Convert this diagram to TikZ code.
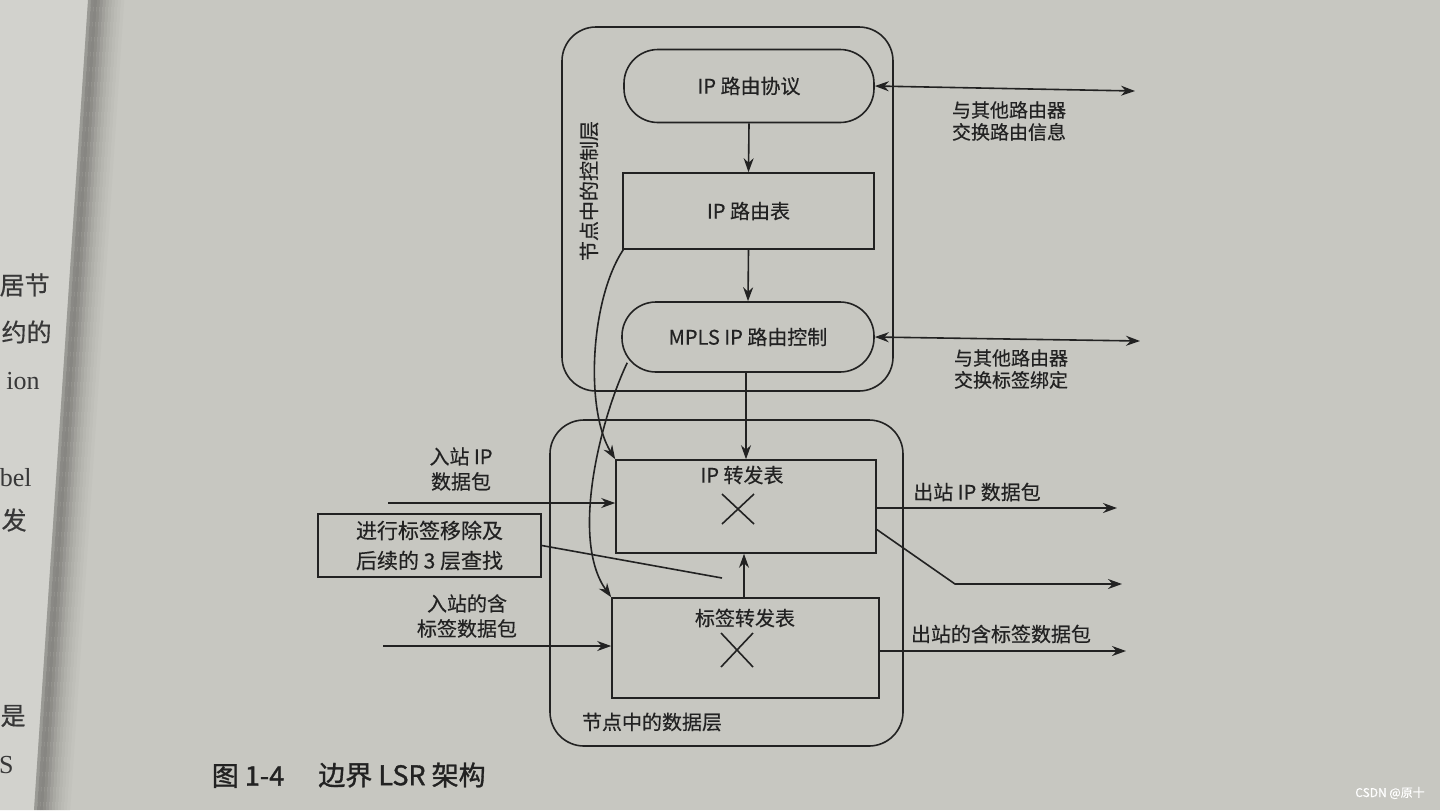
\documentclass[tikz,border=0pt]{standalone}
\usepackage{fontspec}
\setmainfont{Noto Sans CJK SC}[FakeBold=0.4]
\newfontfamily\capfont{Noto Sans CJK SC}[FakeBold=1.2]
\newfontfamily\latserif{Liberation Serif}
\usetikzlibrary{arrows.meta,calc}
\definecolor{page}{RGB}{199,199,193}
\definecolor{lpage}{RGB}{210,210,205}
\definecolor{gutter}{RGB}{135,134,130}
\definecolor{ink}{RGB}{34,34,34}
\tikzset{
  box/.style={draw=ink, rectangle, line width=0.8pt, font=\fontsize{10}{12}\selectfont, text=ink, inner sep=0pt},
  pill/.style={box, rounded corners=17pt},
  layer/.style={draw=ink, rectangle, rounded corners=17pt, line width=0.8pt, inner sep=0pt},
  lbl/.style={text=ink, align=center, inner sep=0pt, font=\fontsize{10}{12.5}\selectfont},
  arr/.style={draw=ink, line width=0.8pt, -{Stealth[length=7pt,width=5pt]}},
  darr/.style={draw=ink, line width=0.8pt, {Stealth[length=7pt,width=5pt]}-{Stealth[length=7pt,width=5pt]}},
  ln/.style={draw=ink, line width=0.8pt},
  margintxt/.style={text=ink!90, anchor=east, inner sep=0pt, font=\fontsize{12.5}{13}\selectfont}
}
\begin{document}
\begin{tikzpicture}[x=0.5pt,y=-0.5pt]
\useasboundingbox (0,0) rectangle (1440,810);
\clip (0,0) rectangle (1440,810);
% background page
\fill[page] (0,0) rectangle (1440,810);
\fill[lpage] (0,0)--(88,0)--(34,810)--(0,810)--cycle;
\foreach \i/\p in {0/70,1/95,2/100,3/90,4/75,5/60,6/47,7/36,8/27,9/19,10/12,11/6}{
  \fill[gutter!\p!page] ({88+3*\i},0)--({91.2+3*\i},0)--({37.2+3*\i},810)--({34+3*\i},810)--cycle;
}
% margin text of the facing page
\node[margintxt] (m1) at (50,285) {居节};
\node[margintxt] (m2) at (52,332) {约的};
\node[margintxt, font=\latserif\fontsize{13}{13}\selectfont] (m3) at (40,381) {ion};
\node[margintxt, font=\latserif\fontsize{13}{13}\selectfont] (m4) at (32,478) {bel};
\node[margintxt] (m5) at (27,520) {发};
\node[margintxt] (m6) at (26,716) {是};
\node[margintxt, font=\latserif\fontsize{13}{13}\selectfont] (m7) at (14,765) {S};

% layers
\node[layer, minimum width=165.5pt, minimum height=182pt] (ctl) at (727.5,209) {};
\node[layer, minimum width=176.5pt, minimum height=163pt] (dat) at (726.5,583) {};
\node[lbl, rotate=90] (ctlt) at (589,191) {节点中的控制层};
\node[lbl] (datt) at (652,722) {节点中的数据层};

% control boxes
\node[pill, minimum width=125pt, minimum height=36.5pt] (proto) at (749,86) {IP 路由协议};
\node[box, minimum width=125.5pt, minimum height=38pt] (rtab) at (748.5,211) {IP 路由表};
\node[pill, minimum width=126pt, minimum height=35pt] (mpls) at (748,337) {MPLS IP 路由控制};

% data boxes
\node[box, minimum width=130pt, minimum height=46.5pt] (ipf) at (746,506.5) {};
\node[lbl] (ipft) at (742,475) {IP 转发表};
\node[box, minimum width=133.5pt, minimum height=50pt] (lfib) at (745.5,648) {};
\node[lbl] (lfibt) at (745,618) {标签转发表};
\draw[ln] (722,494) -- (754,524) (754,494) -- (722,524);
\draw[ln] (721,633) -- (753,667) (753,633) -- (721,667);

% removal box
\node[box, minimum width=111.5pt, minimum height=31.5pt, align=center, font=\fontsize{10.5}{15}\selectfont] (rm) at (429.5,545.5) {进行标签移除及\\后续的 3 层查找};
\coordinate (rmend) at (722,578);
\draw[ln] (rm.east) -- (rmend);

% vertical arrows
\draw[arr] (proto.south) -- (rtab.north);
\draw[arr] (rtab.south) -- (mpls.north);
\draw[arr] (mpls.south -| ipf.north) -- (ipf.north);
\draw[arr] (lfib.north -| 744,0) -- (ipf.south -| 744,0);

% curved arrows
\coordinate (rtabL) at ([xshift=0.5pt]rtab.south west);
\coordinate (mplsL) at ([xshift=3pt,yshift=5pt]mpls.south west);
\draw[arr] (rtabL) .. controls (590,300) and (585,410) .. (ipf.north west);
\draw[arr] (mplsL) .. controls (600,420) and (570,540) .. (lfib.north west);

% right side exchange arrows
\coordinate (r1) at (1135,91);
\coordinate (r2) at (1140,341);
\draw[darr] (proto.east) -- (r1);
\draw[darr] (mpls.east) -- (r2);
\node[lbl, font=\fontsize{9.5}{11}\selectfont] (r1t) at (1009,121) {与其他路由器\\交换路由信息};
\node[lbl, font=\fontsize{9.5}{11}\selectfont] (r2t) at (1011,369) {与其他路由器\\交换标签绑定};

% incoming
\coordinate (inip) at (388,503);
\coordinate (inl) at (383,646);
\draw[arr] (inip) -- (inip -| ipf.west);
\draw[arr] (inl) -- (inl -| lfib.west);
\node[lbl] (inipt) at (461,469) {入站 IP\\数据包};
\node[lbl] (inlt) at (467,616) {入站的含\\标签数据包};

% outgoing
\coordinate (outip) at (1117,508);
\coordinate (dstart) at ([yshift=-11.5pt]ipf.east);
\coordinate (dbend) at (955,584);
\coordinate (dend) at (1122,584);
\coordinate (outl) at (1126,651);
\draw[arr] (outip -| ipf.east) -- (outip);
\draw[arr] (dstart) -- (dbend) -- (dend);
\draw[arr] (outl -| lfib.east) -- (outl);
\node[lbl] (outipt) at (977,492) {出站 IP 数据包};
\node[lbl] (outlt) at (1001,634) {出站的含标签数据包};

% caption
\node[lbl, font=\capfont\fontsize{13.5}{14}\selectfont] (cap1) at (248,776) {图 1-4};
\node[lbl, font=\capfont\fontsize{13.5}{14}\selectfont] (cap2) at (402,775) {边界 LSR 架构};

% watermark
\node[text=white, inner sep=0pt, font=\fontsize{6}{6}\selectfont] (wm) at (1390,793) {CSDN @原十};
\end{tikzpicture}
\end{document}
